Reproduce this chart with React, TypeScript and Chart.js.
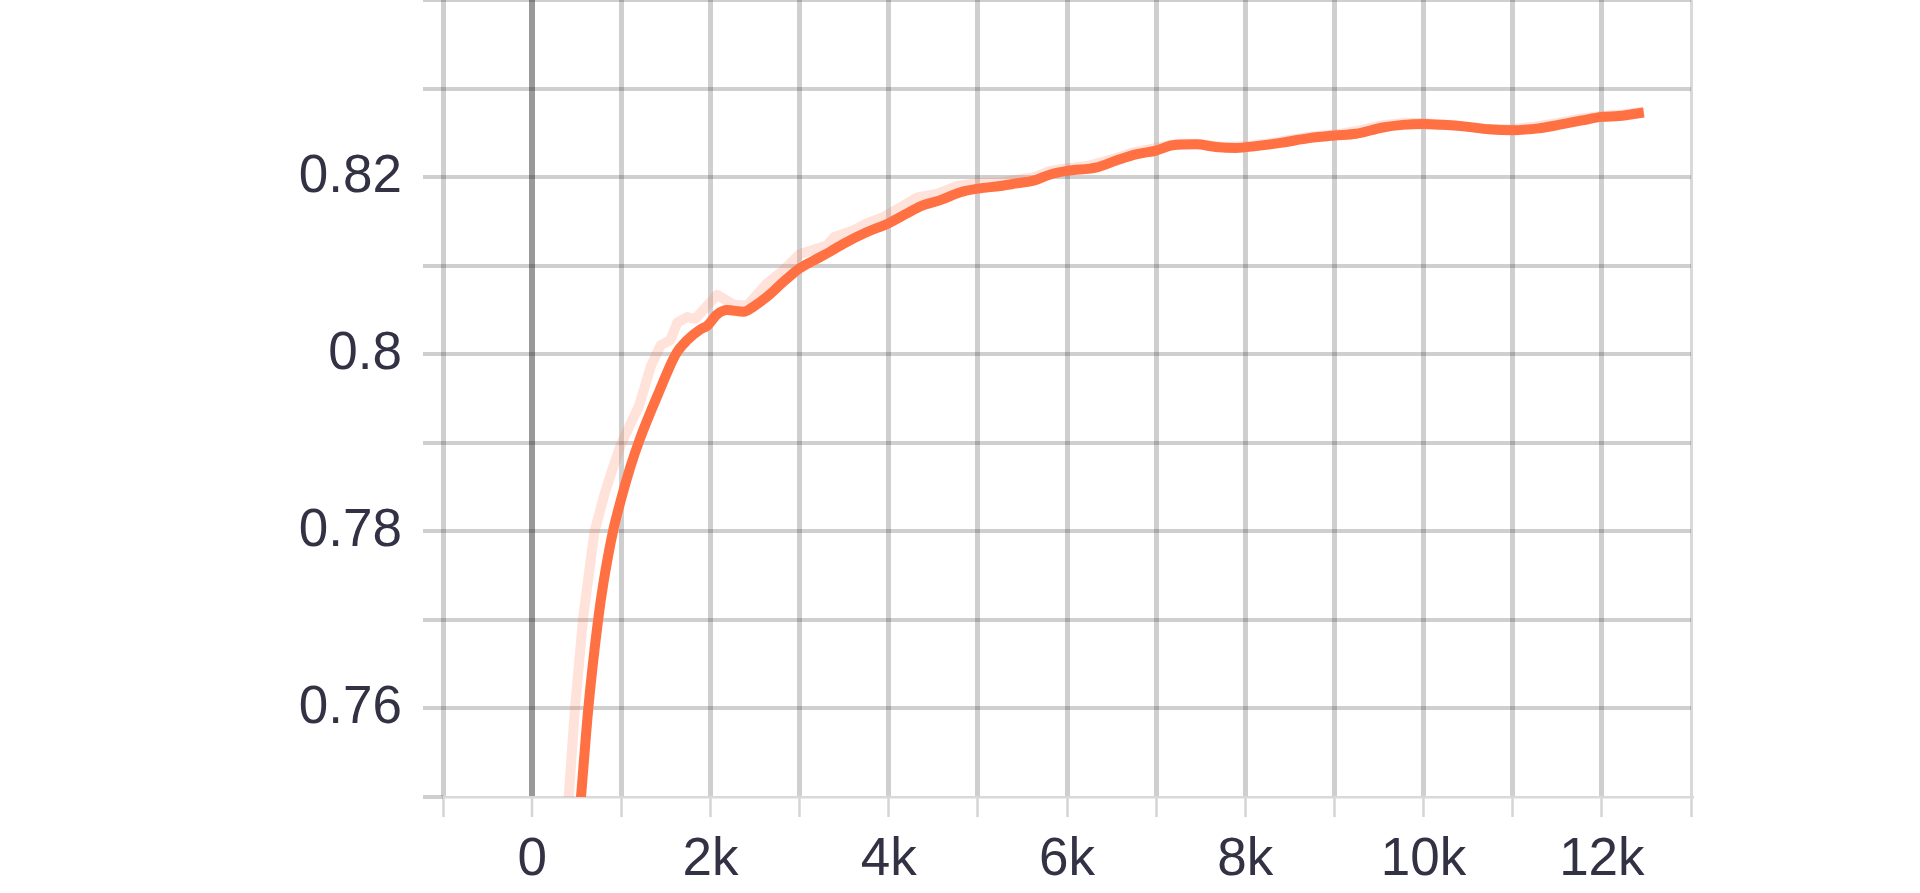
import React, { useEffect, useRef } from "react";
import { Chart, registerables } from "chart.js";

Chart.register(...registerables);

// Smoothed series (main orange line)
const smoothSteps = [
  400, 548, 630, 740, 800, 907, 1000, 1100, 1204, 1426, 1611, 1741, 1888, 1963, 2075, 2185,
  2374, 2486, 2636, 2822, 3000, 3161, 3346, 3496, 3757, 4000, 4206, 4355, 4579, 4804, 5000,
  5252, 5439, 5626, 5813, 6000, 6336, 6560, 6784, 7000, 7187, 7448, 7672, 7896, 8119, 8418,
  8716, 9000, 9243, 9541, 9765, 10000, 10213, 10474, 10735, 11000, 11291, 11515, 11776, 12000,
  12194, 12470,
];
const smoothValues = [
  0.733, 0.75, 0.76, 0.77, 0.7742, 0.78, 0.7837, 0.7872, 0.7903, 0.7958, 0.8, 0.8016, 0.8028,
  0.8032, 0.8045, 0.805, 0.8048, 0.8054, 0.8065, 0.8082, 0.8097, 0.8106, 0.8116, 0.8125,
  0.8138, 0.8148, 0.8159, 0.8167, 0.8174, 0.8183, 0.8187, 0.819, 0.8193, 0.8196, 0.8203,
  0.8207, 0.8211, 0.8219, 0.8226, 0.823, 0.8236, 0.8237, 0.8234, 0.8233, 0.8235, 0.8239,
  0.8244, 0.8247, 0.8249, 0.8256, 0.8259, 0.826, 0.8259, 0.8257, 0.8254, 0.8253, 0.8255,
  0.8259, 0.8264, 0.8268, 0.8269, 0.8273,
];

// Raw series (faint line)
const rawSteps = [
  300, 410, 480, 575, 700, 815, 890, 1000, 1200, 1330, 1440, 1550, 1630, 1740, 1830, 2075,
  2260, 2410, 2636, 2822, 3000, 3310, 3384, 3608, 3757, 3944, 4131, 4318, 4542, 4766, 4991,
  5252, 5626, 5813, 6000, 6250, 6500, 6750, 7000, 7250, 7500, 7750, 8000, 8250, 8500, 8750,
  9000, 9250, 9500, 9750, 10000, 10250, 10500, 10750, 11000, 11250, 11500, 11750, 12000,
  12250, 12470,
];
const rawValues = [
  0.735, 0.75, 0.76, 0.7705, 0.78, 0.7843, 0.7867, 0.7899, 0.7942, 0.7986, 0.801, 0.8016,
  0.8036, 0.8042, 0.804, 0.8067, 0.8056, 0.8055, 0.808, 0.8095, 0.8113, 0.8123, 0.8132,
  0.814, 0.8148, 0.8155, 0.8166, 0.8177, 0.8181, 0.819, 0.8193, 0.8194, 0.82, 0.8207, 0.821,
  0.8213, 0.822, 0.8228, 0.8233, 0.8238, 0.8237, 0.8234, 0.8235, 0.8238, 0.8242, 0.8246,
  0.8248, 0.8252, 0.8258, 0.8261, 0.8261, 0.8259, 0.8257, 0.8254, 0.8254, 0.8257, 0.8261,
  0.8266, 0.8269, 0.8271, 0.8274,
];

const X_MIN = -1000;
const X_MAX = 13000;
const X_STEP = 1000;
const Y_MIN = 0.75;
const Y_MAX = 0.84;
const Y_STEP = 0.01;

const xTickLabel = (v: number) => {
  const k = Math.round(v / 1000);
  if (k < 0 || k % 2 !== 0 || v >= X_MAX) return "";
  return k === 0 ? "0" : `${k}k`;
};
const yTickLabel = (v: number) => {
  const c = Math.round(v * 100);
  if (c % 2 !== 0 || c <= 75 || c >= 84) return "";
  return String(c / 100);
};

export default function App() {
  const ref = useRef<HTMLCanvasElement | null>(null);

  useEffect(() => {
    document.body.style.margin = "0";
    const canvas = ref.current;
    if (!canvas) return;
    const font = { family: "'Liberation Sans', Arial, sans-serif", size: 53 };
    const chart = new Chart(canvas, {
      type: "line",
      data: {
        datasets: [
          {
            data: smoothSteps.map((s, i) => ({ x: s, y: smoothValues[i] })),
            borderColor: "#ff7043",
            borderWidth: 10,
            borderJoinStyle: "round",
            pointRadius: 0,
            cubicInterpolationMode: "monotone",
            clip: 0,
          },
          {
            data: rawSteps.map((s, i) => ({ x: s, y: rawValues[i] })),
            borderColor: "rgba(255,112,67,0.2)",
            borderWidth: 10,
            borderJoinStyle: "round",
            pointRadius: 0,
            tension: 0,
            clip: 0,
          },
        ],
      },
      options: {
        responsive: false,
        animation: false,
        devicePixelRatio: 1,
        layout: { padding: { left: 0, right: 229, top: 0, bottom: 0 } },
        plugins: { legend: { display: false }, tooltip: { enabled: false } },
        scales: {
          x: {
            type: "linear",
            min: X_MIN,
            max: X_MAX,
            afterFit: (s: any) => {
              s.height = 96;
              s.paddingLeft = 0;
              s.paddingRight = 0;
            },
            ticks: {
              stepSize: X_STEP,
              autoSkip: false,
              maxRotation: 0,
              padding: 12,
              color: "#323244",
              font,
              callback: (v: any) => xTickLabel(Number(v)),
            },
            grid: {
              color: (ctx: any) => {
                const v = ctx.tick ? ctx.tick.value : null;
                if (v === 0) return "rgba(0,0,0,0.4)";
                if (v === X_MAX) return "rgba(0,0,0,0.15)";
                return "rgba(0,0,0,0.19)";
              },
              lineWidth: (ctx: any) => {
                const v = ctx.tick ? ctx.tick.value : null;
                if (v === 0) return 6;
                if (v === X_MAX) return 3;
                return 5;
              },
              tickLength: 20,
              tickWidth: 2.5,
              tickColor: "rgba(0,0,0,0.17)",
            },
            border: { display: true, color: "rgba(0,0,0,0.15)", width: 2.5 },
          },
          y: {
            type: "linear",
            min: Y_MIN,
            max: Y_MAX,
            afterFit: (s: any) => {
              s.width = 443;
              s.paddingTop = 0;
              s.paddingBottom = 0;
            },
            ticks: {
              stepSize: Y_STEP,
              autoSkip: false,
              padding: 21,
              color: "#323244",
              font,
              callback: (v: any) => yTickLabel(Number(v)),
            },
            grid: {
              color: (ctx: any) => {
                const v = ctx.tick ? Math.round(ctx.tick.value * 100) : null;
                if (v === 75) return "rgba(0,0,0,0.0)";
                return "rgba(0,0,0,0.19)";
              },
              lineWidth: 4,
              tickLength: 20,
              tickWidth: 4,
              tickColor: "rgba(0,0,0,0.19)",
            },
            border: { display: false },
          },
        },
      },
    } as any);
    return () => chart.destroy();
  }, []);

  return (
    <div style={{ width: 1920, height: 893, background: "#fff" }}>
      <canvas ref={ref} width={1920} height={893} style={{ display: "block" }} />
    </div>
  );
}
